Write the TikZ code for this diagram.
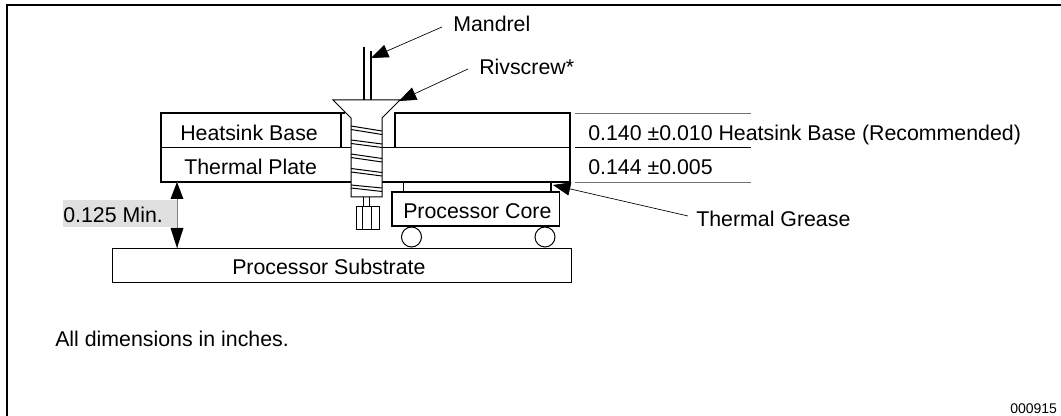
\documentclass[tikz,border=0pt]{standalone}
\usepackage{fontspec}
\setmainfont{Liberation Sans}
\usetikzlibrary{arrows.meta}
\tikzset{
  box/.style={draw=black,line width=0.75pt,fill=white,inner sep=0pt,minimum width=0pt},
  lab/.style={anchor=base west,inner sep=0pt,font=\fontsize{16pt}{18pt}\selectfont},
  callout/.style={line width=0.5pt,-{Triangle[length=13pt,width=10pt]}},
  dimline/.style={line width=0.75pt},
  thread/.style={line width=0.75pt}
}
\begin{document}
\begin{tikzpicture}[x=0.75pt,y=-0.75pt]
\useasboundingbox (0,0) rectangle (1061,416);
% frame
\coordinate (fa) at (7,416);
\coordinate (fb) at (7,5);
\coordinate (fc) at (1061,5);
\draw[line width=1.5pt] (fa) -- (fb) -- (fc);
% substrate
\node[box,minimum width=344pt,minimum height=25.5pt,anchor=north west] (sub) at (112,248) {};
\node[lab] (subt) at (232,275) {Processor Substrate};
% gray label
\fill[black!12] (63,200) rectangle (177,227);
\node[lab] (clr) at (63,223) {0.125 Min.};
% core
\node[circle,draw,line width=0.75pt,minimum size=15pt,inner sep=0pt] (c1) at (411.5,237) {};
\node[circle,draw,line width=0.75pt,minimum size=15pt,inner sep=0pt] (c2) at (545,237) {};
\draw[line width=1pt,fill=white] (392,192) rectangle (559.5,226);
\node[lab] (coret) at (403,219) {Processor Core};
% grease
\draw[line width=0.75pt] (403,182) -- (403,191);
\draw[line width=1.2pt] (551,182) -- (551,191);
% heatsink and plate
\draw[line width=1pt] (345,113) -- (161,113) -- (161,182) -- (352,182);
\draw[line width=0.75pt] (161,148) -- (352,148);
\draw[line width=1pt] (341,113) -- (341,148);
\draw[line width=1pt] (395,148) -- (395,113) -- (570,113) -- (570,182) -- (381,182);
\draw[line width=0.75pt] (381,148) -- (570,148);
\node[lab] (hb) at (180,141) {Heatsink Base};
\node[lab] (tp) at (184,175) {Thermal Plate};
% screw
\draw[line width=0.75pt,fill=white] (333,100) -- (400,100) -- (382,118) -- (382,197) -- (351,197) -- (351,118) -- cycle;
\foreach \a/\b in {126/131,129.5/134.5,140/144,143.5/147.5,154/158.5,157.5/162,168.5/172.5,172/176,185/188,188/191.5}{
  \draw[thread] (351,\a) -- (382,\b);
}
% mandrel
\draw[line width=0.9pt] (364,47) -- (364,100);
\draw[line width=0.9pt] (371,51) -- (371,100);
% stub
\draw[line width=0.75pt] (363,197) -- (363,207);
\draw[line width=0.75pt] (369,197) -- (369,207);
\draw[line width=0.75pt] (356,207) rectangle (379,229.5);
\draw[line width=0.75pt] (362,207) -- (362,229.5);
\draw[line width=0.75pt] (371,207) -- (371,229.5);
% dims
\coordinate (d1a) at (575,114); \coordinate (d1b) at (751,114);
\coordinate (d2a) at (575,148); \coordinate (d2b) at (751,148);
\coordinate (d3a) at (575,183); \coordinate (d3b) at (751,183);
\draw[dimline,black!55] (d1a) -- (d1b);
\draw[dimline] (d2a) -- (d2b);
\draw[dimline,black!55] (d3a) -- (d3b);
\node[lab] (t1) at (588,141) {0.140 ±0.010 Heatsink Base (Recommended)};
\node[lab] (t2) at (588,175) {0.144 ±0.005};
% clearance
\coordinate (ca) at (177,182); \coordinate (cb) at (177,248);
\draw[black!50,line width=0.5pt] (ca) -- (cb);
\fill (ca) -- (183.5,199) -- (170.5,199) -- cycle;
\fill (cb) -- (170.5,228) -- (183.5,228) -- cycle;
% callouts
\node[lab] (man) at (453,32) {Mandrel};
\node[lab] (riv) at (479,74.5) {Rivscrew*};
\node[lab] (tg) at (696,227) {Thermal Grease};
\coordinate (m1) at (442,27); \coordinate (m2) at (371,58);
\coordinate (r1) at (468,69); \coordinate (r2) at (399,101);
\coordinate (g1) at (688,216); \coordinate (g2) at (553,185);
\draw[callout] (m1) -- (m2);
\draw[callout] (r1) -- (r2);
\draw[callout] (g1) -- (g2);
\node[lab] (note) at (55,347) {All dimensions in inches.};
\node[anchor=base west,inner sep=0pt,font=\fontsize{10.5pt}{12pt}\selectfont] (code) at (1010,414) {000915};
\end{tikzpicture}
\end{document}
